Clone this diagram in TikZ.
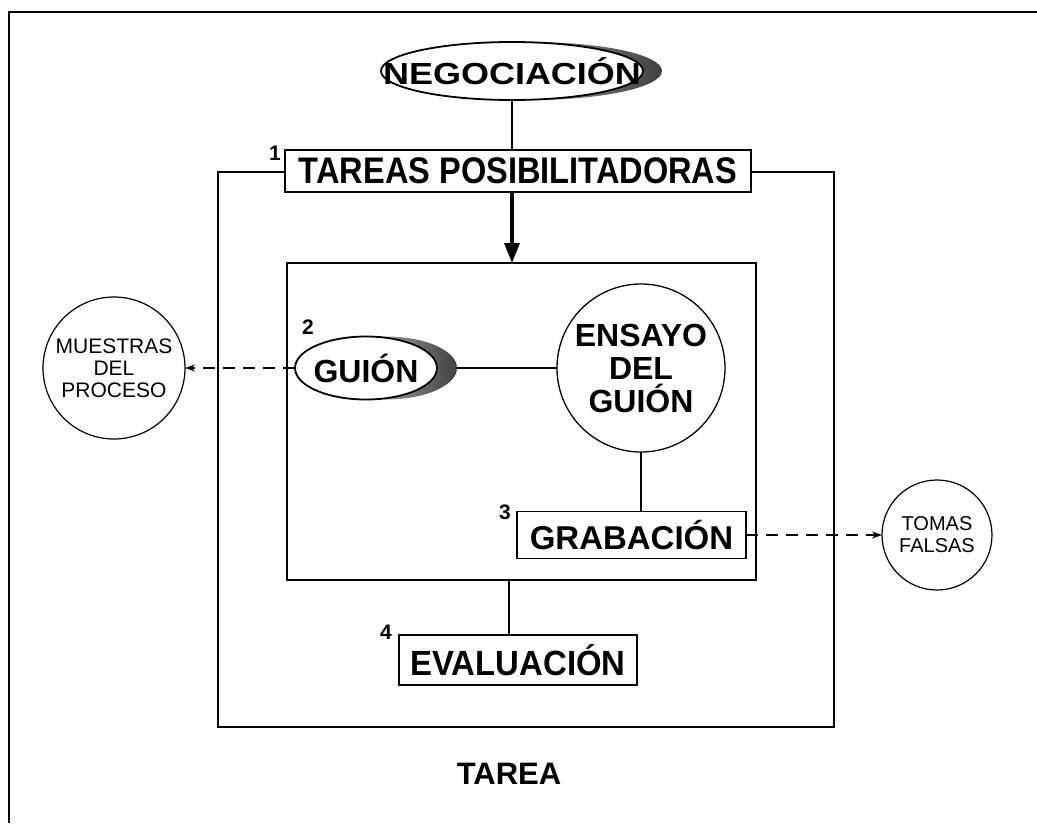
\documentclass[tikz,border=0pt]{standalone}
\usepackage{fontspec}
\setmainfont{Liberation Sans}
\newfontfamily\widefont[FakeStretch=1.18]{Liberation Sans}
\newfontfamily\narrowfont[FakeStretch=0.88]{Liberation Sans}
\newfontfamily\semifont[FakeStretch=0.94]{Liberation Sans}
\usetikzlibrary{shapes.geometric,arrows.meta,shadows}
\newcommand{\fsz}[1]{\fontsize{#1}{#1}\selectfont}
\begin{document}
\begin{tikzpicture}[x=1pt, y=-1pt, line width=1.8pt, every node/.style={outer sep=0pt, inner sep=0pt}]
\useasboundingbox (0,0) rectangle (1037,823);
\draw (9,823) -- (9,12) -- (1037,12);
\draw (218,172) rectangle (834,727);
\node (inner) [draw, minimum width=469, minimum height=317] at (521.5,421.5) {};

\tikzset{crescent/.style={general shadow={shadow xshift=#1, left color=gray!15, right color=black!75}}}
\tikzset{every node/.style={outer sep=0pt, inner sep=0pt, fill=white, font=\bfseries\fsz{33}}}
\node (neg) [ellipse, draw, minimum width=262, minimum height=58, crescent=19pt, font=\widefont\bfseries\fsz{30.5}] at (512,71) {\makebox[0pt]{NEGOCIACIÓN}};
\node (tareas) [draw, minimum width=466, minimum height=42, font=\narrowfont\bfseries\fsz{37}] at (518,171) {TAREAS POSIBILITADORAS};
\node (guion) [ellipse, draw, minimum width=142, minimum height=63, crescent=20pt, font=\bfseries\fsz{32}] at (366,368) {\makebox[0pt]{GUIÓN}};
\node (ensayo) [circle, draw, line width=1.3pt, minimum size=168, align=center, font=\bfseries\fsz{32}] at (641,368) {ENSAYO\\[1pt]DEL\\[1pt]GUIÓN};
\node (grab) [draw, minimum width=229, minimum height=47] at (631.5,535) {GRABACIÓN};
\node (eval) [draw, minimum width=238, minimum height=50, font=\semifont\bfseries\fsz{35}] at (518,660) {EVALUACIÓN};
\node (muestras) [circle, draw, line width=1.2pt, minimum size=142, align=center, font=\fsz{21}] at (114,368) {MUESTRAS\\[1pt]DEL\\[1pt]PROCESO};
\node (tomas) [circle, draw, line width=1.2pt, minimum size=110, align=center, font=\fsz{20}] at (937,535) {TOMAS\\[2pt]FALSAS};

\tikzset{every node/.style={font=\bfseries\fsz{21}}}
\node (k1) at (275,153) {1};
\node (k2) at (308,327) {2};
\node (k3) at (505,512) {3};
\node (k4) at (386,632) {4};
\node (tarea) [font=\bfseries\fsz{31}] at (509,774) {TAREA};

\tikzset{mystyle/.style={-, line width=1.5pt}}
\path (neg) edge [mystyle] (neg.south |- tareas.north);
\path ([xshift=20pt]guion.east) edge [mystyle] (ensayo);
\path (ensayo) edge [mystyle] (ensayo.south |- grab.north);
\path (inner.south -| tarea) edge [mystyle] (eval.north -| tarea);

\tikzset{mystyle/.style={-{Triangle[length=20pt,width=15pt]}, line width=3.5pt}}
\path (neg.south |- tareas.south) edge [mystyle] (neg.south |- inner.north);

\tikzset{mystyle/.style={-{Stealth[length=10pt,width=7pt]}, line width=1.3pt, dash pattern=on 12pt off 8pt}}
\path (guion) edge [mystyle] (muestras);
\path (grab) edge [mystyle] (tomas);
\end{tikzpicture}
\end{document}
